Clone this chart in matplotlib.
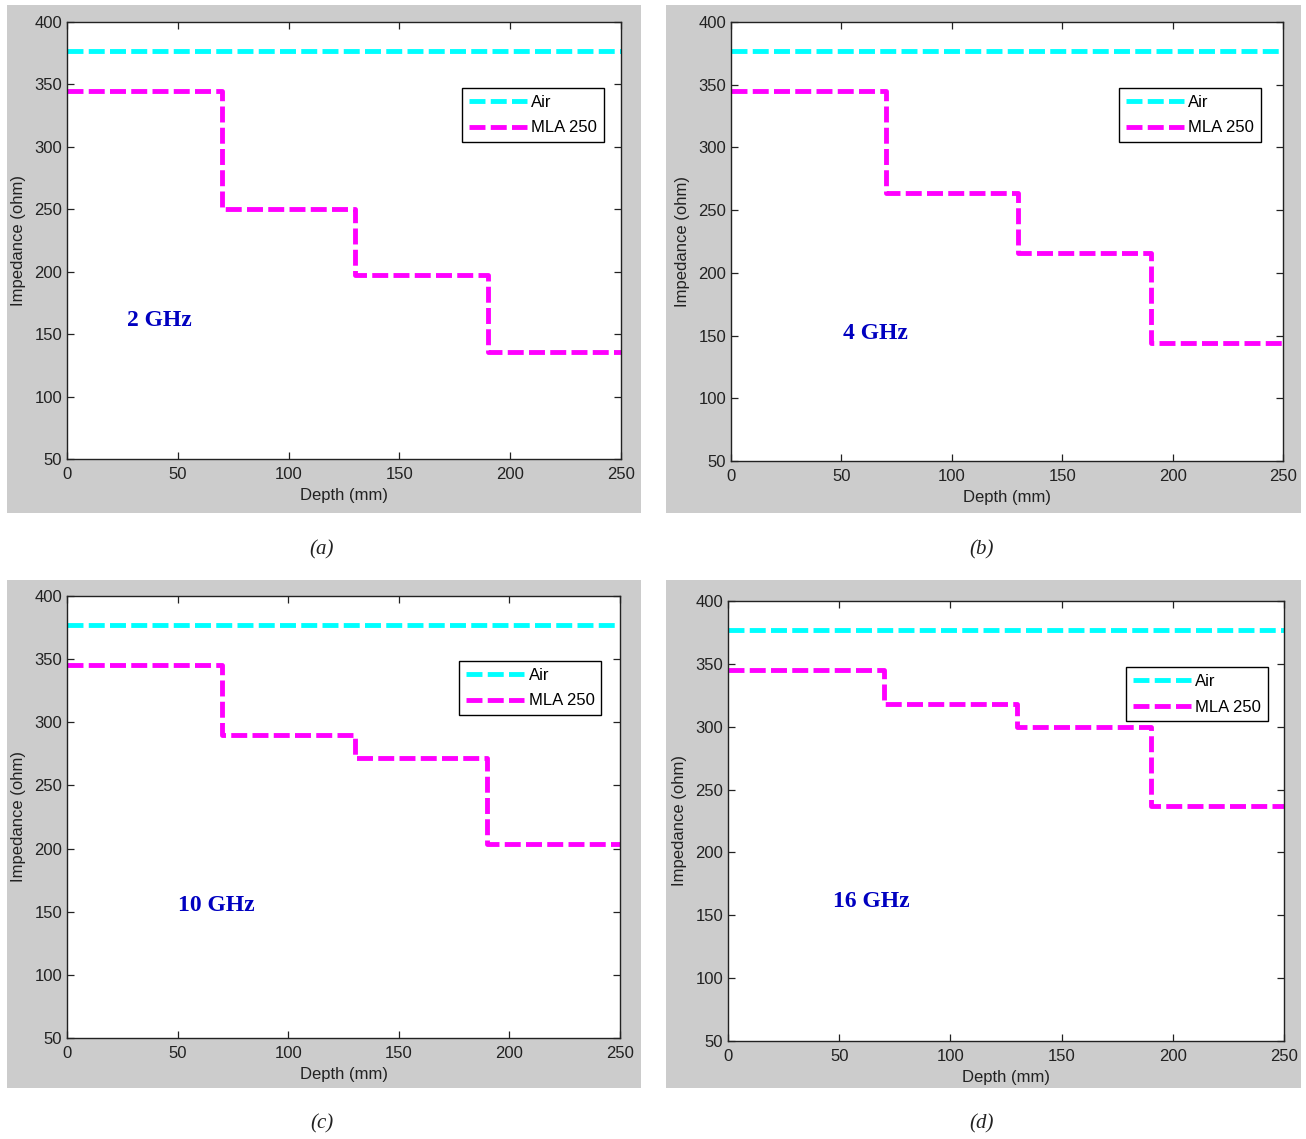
import matplotlib
matplotlib.use("Agg")
import matplotlib.pyplot as plt
from matplotlib.patches import Rectangle

plt.rcParams['font.family'] = ['Liberation Sans', 'DejaVu Sans']
plt.rcParams['lines.scale_dashes'] = False

# ---- data ----
depth_edges = [0, 70, 130, 190, 250]
air_impedance = 377
mla_2ghz = [345, 250, 197, 136]
mla_4ghz = [345, 264, 216, 144]
mla_10ghz = [345, 290, 272, 204]
mla_16ghz = [345, 318, 300, 237]
freq_labels = ["2 GHz", "4 GHz", "10 GHz", "16 GHz"]
captions = ["(a)", "(b)", "(c)", "(d)"]
x_ticks = [0, 50, 100, 150, 200, 250]
y_ticks = [50, 100, 150, 200, 250, 300, 350, 400]

series = [mla_2ghz, mla_4ghz, mla_10ghz, mla_16ghz]
freq_text_pos = [(27, 161), (50.5, 152), (50, 155), (47, 161)]

W, H = 1306, 1139
fig = plt.figure(figsize=(W / 100, H / 100), dpi=100)

# pixel boxes: gray panel (x0, y0, x1, y1) and axes (x0, y0, x1, y1)
gray_boxes = [(7, 5, 641, 513), (666, 5, 1301, 513),
              (7, 580, 641, 1088), (666, 580, 1301, 1088)]
axes_boxes = [(67, 22, 621, 459), (731, 22, 1283, 461),
              (67, 596, 620, 1038), (728, 601, 1284, 1041)]
legend_anchor = [(0.969, 0.849), (0.960, 0.850), (0.966, 0.853), (0.971, 0.850)]
caption_pos = [(322, 550), (982, 550), (322, 1124), (982, 1124)]


def frac_box(b):
    x0, y0, x1, y1 = b
    return [x0 / W, 1 - y1 / H, (x1 - x0) / W, (y1 - y0) / H]


for i in range(4):
    gb = frac_box(gray_boxes[i])
    fig.patches.append(Rectangle((gb[0], gb[1]), gb[2], gb[3],
                                 transform=fig.transFigure, facecolor='#CCCCCC',
                                 edgecolor='none', zorder=-5))
    ax = fig.add_axes(frac_box(axes_boxes[i]))
    ax.set_zorder(2)
    ax.set_facecolor('white')
    vals = series[i]
    ax.plot([depth_edges[0], depth_edges[-1]], [air_impedance, air_impedance],
            color='#00FFFF', lw=3.5, dashes=(11.5, 3.8), label='Air')
    ax.step(depth_edges, vals + [vals[-1]], where='post',
            color='#FF00FF', lw=3.5, dashes=(11.5, 3.8), label='MLA 250')
    ax.set_xlim(0, 250)
    ax.set_ylim(50, 400)
    ax.set_xticks(x_ticks)
    ax.set_yticks(y_ticks)
    ax.tick_params(direction='in', length=5, width=0.9, top=True, right=True,
                   labelsize=12, colors='#222222')
    ax.tick_params(axis='x', pad=6)
    ax.tick_params(axis='y', pad=3.5)
    for s in ax.spines.values():
        s.set_linewidth(1.0)
        s.set_color('#222222')
    ax.set_xlabel('Depth (mm)', fontsize=12, color='#222222', labelpad=4)
    ax.set_ylabel('Impedance (ohm)', fontsize=12, color='#222222', labelpad=6)
    leg = ax.legend(loc='upper right', bbox_to_anchor=legend_anchor[i],
                    borderaxespad=0, fontsize=12, handlelength=3.5,
                    handletextpad=0.25, fancybox=False, framealpha=1,
                    edgecolor='black', borderpad=0.4, labelspacing=0.65)
    leg.get_frame().set_linewidth(1.0)
    fx, fy = freq_text_pos[i]
    ax.text(fx, fy, freq_labels[i], family=['Liberation Serif'], fontweight='bold',
            fontsize=17, color='#0000C0', ha='left', va='center')
    cx, cy = caption_pos[i]
    fig.text(cx / W, 1 - cy / H, captions[i], family=['Liberation Serif'],
             style='italic', fontsize=15, ha='center', va='center', color='#222222')

fig.savefig('out.png', dpi=100, facecolor='white')
